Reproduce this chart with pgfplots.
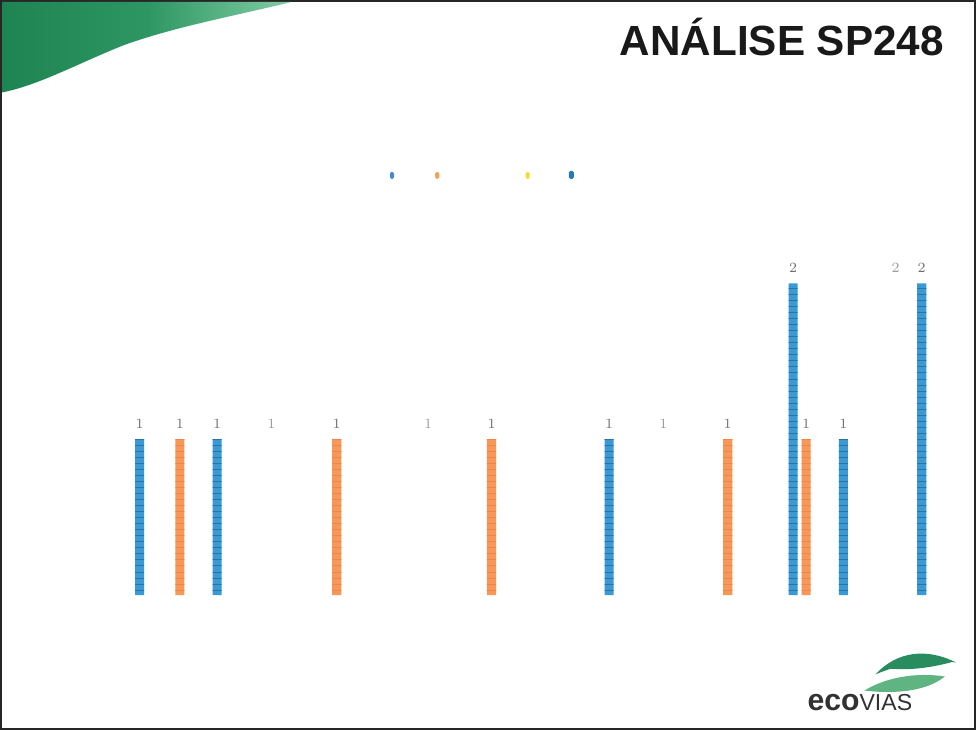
\documentclass[border=0pt]{standalone}
\usepackage{pgfplots}
\pgfplotsset{compat=1.18}
\usetikzlibrary{patterns}
\usepackage{fontspec}
\setmainfont{Liberation Sans}
\definecolor{barblue}{RGB}{58,154,214}
\definecolor{barorange}{RGB}{246,152,88}
\definecolor{lblgray}{RGB}{110,110,110}
\definecolor{swdark}{RGB}{30,132,82}
\definecolor{swmid}{RGB}{45,150,98}
\definecolor{swlight}{RGB}{130,205,165}
\definecolor{leafdark}{RGB}{40,140,95}
\definecolor{leaflight}{RGB}{95,180,130}
\definecolor{logogray}{RGB}{50,50,50}
\definecolor{lgA}{RGB}{70,140,205}
\definecolor{lgB}{RGB}{240,165,95}
\definecolor{lgC}{RGB}{250,215,50}
\definecolor{lgD}{RGB}{40,120,180}
\begin{document}
\begin{tikzpicture}
\begin{axis}[
  at={(0,0)}, anchor=south west,
  scale only axis, width=488pt, height=365.5pt,
  xmin=0, xmax=976, ymin=-0.8774, ymax=3.8387,
  axis lines=none, ticks=none, clip=false,
  ybar, bar width=4.5pt,
  nodes near coords,
  every node near coord/.append style={font=\fontsize{7}{8}\selectfont, text=lblgray, yshift=2pt},
]
% blue series
\addplot[fill=barblue, draw=none, bar shift=0pt,
  postaction={pattern=horizontal lines, pattern color=barblue!75!black}]
  coordinates {(141,1) (218,1) (608,1) (791,2) (841,1) (919,2)};
% orange series
\addplot[fill=barorange, draw=none, bar shift=0pt,
  postaction={pattern=horizontal lines, pattern color=barorange!85!red}]
  coordinates {(181,1) (337,1) (491,1) (726,1) (804,1)};
% faded series (bars not visible in the scan)
\addplot[fill=white, draw=none, bar shift=0pt,
  every node near coord/.append style={text=lblgray!70}] coordinates {(272,1) (428,1) (662,1) (893,2)};
\end{axis}
\begin{scope}[x=0.5pt, y=-0.5pt, shift={(0,365.5pt)}]
  % slide frame
  \draw[line width=1pt, black!85] (3,4) rectangle (972,728);
  % green swoosh
  \shade[left color=swdark, right color=swlight, middle color=swmid]
    (4,5) -- (292,5) .. controls (230,20) and (175,30) .. (125,48)
    .. controls (80,66) and (40,88) .. (4,95) -- cycle;
  % title
  \node[anchor=east, font=\fontsize{21}{24}\bfseries, text=black!90] at (948,40) {ANÁLISE SP248};
  % legend keys
  \fill[lgA, rounded corners=0.8pt]  (390,174) rectangle (394,181);
  \fill[lgB, rounded corners=0.8pt]  (435,174) rectangle (439,181);
  \fill[lgC, rounded corners=0.8pt]  (525,174) rectangle (529,181);
  \fill[lgD, rounded corners=0.8pt]  (568,173) rectangle (573,181);
  % logo leaves
  \fill[leafdark] (873,674) .. controls (895,650) and (925,648) .. (953,662)
     .. controls (930,660) and (900,662) .. (873,674) -- cycle;
  \fill[leafdark] (885,668) .. controls (905,656) and (930,655) .. (948,662)
     .. controls (925,668) and (905,670) .. (885,668) -- cycle;
  \fill[leaflight] (862,690) .. controls (885,676) and (915,672) .. (942,676)
     .. controls (925,690) and (895,694) .. (862,690) -- cycle;
  \node[anchor=base west, inner sep=0pt, text=logogray] at (805,710)
     {\fontsize{15}{16}\bfseries eco\fontsize{11.5}{12}\mdseries VIAS};
\end{scope}
\end{tikzpicture}
\end{document}
